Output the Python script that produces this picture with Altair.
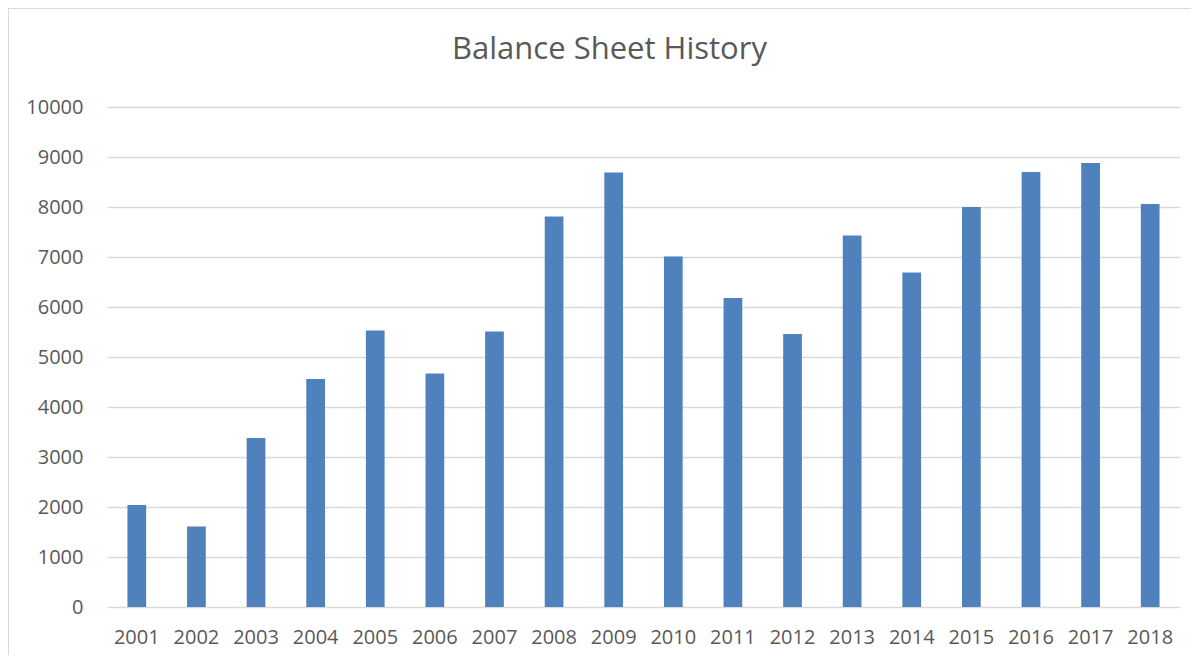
import altair as alt
import pandas as pd

years = ["2001", "2002", "2003", "2004", "2005", "2006", "2007", "2008", "2009",
         "2010", "2011", "2012", "2013", "2014", "2015", "2016", "2017", "2018"]
values = [2040, 1610, 3380, 4560, 5530, 4670, 5510, 7810, 8690,
          7010, 6180, 5460, 7430, 6690, 8000, 8700, 8880, 8060]
y_ticks = [0, 1000, 2000, 3000, 4000, 5000, 6000, 7000, 8000, 9000, 10000]
title_text = "Balance Sheet History"

df = pd.DataFrame({"Year": years, "Value": values})

FONT = "Open Sans"
GREY = "#595959"
GRID = "#d9d9d9"

bars = alt.Chart(df).mark_bar(color="#4f81bd").encode(
    x=alt.X("Year:N", sort=years,
            scale=alt.Scale(paddingInner=0.686, paddingOuter=0.343),
            axis=alt.Axis(title=None, labelAngle=0, domain=False, ticks=False,
                          labelFont=FONT, labelFontSize=20, labelColor=GREY,
                          labelPadding=20, grid=False)),
    y=alt.Y("Value:Q", scale=alt.Scale(domain=[0, 10000], nice=False),
            axis=alt.Axis(title=None, values=y_ticks, format="d", domain=False,
                          ticks=False, labelFont=FONT, labelFontSize=20,
                          labelColor=GREY, labelPadding=24, grid=True,
                          gridColor=GRID, gridWidth=1.3)),
)

frame = alt.Chart(pd.DataFrame({"k": [0]})).mark_rect(
    fill=None, stroke=GRID, strokeWidth=2
).encode(
    x=alt.value(-99), y=alt.value(-99), x2=alt.value(1300), y2=alt.value(700)
)

chart = alt.layer(frame, bars).properties(
    width=1073,
    height=500,
    title=alt.TitleParams(title_text, font=FONT, fontSize=31, fontWeight="normal",
                          color=GREY, anchor="middle", dx=-34, offset=0, dy=83,
                          baseline="alphabetic"),
    autosize=alt.AutoSizeParams(type="none"),
    padding={"left": 99, "top": 99, "right": 11, "bottom": 48},
).configure(background="white").configure_view(stroke=None)

chart.save("out.html", embed_options={"renderer": "svg", "actions": False})
